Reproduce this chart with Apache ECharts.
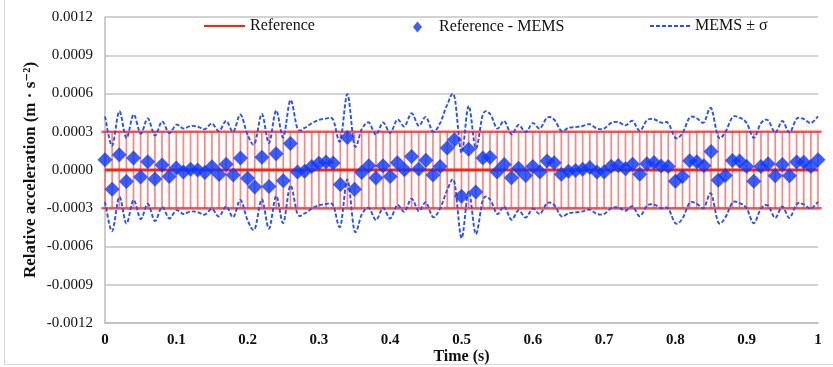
<!DOCTYPE html>
<html>
<head>
<meta charset="utf-8">
<script src="https://cdn.jsdelivr.net/npm/echarts@6/dist/echarts.min.js"></script>
<style>
  html, body { margin: 0; padding: 0; background: #ffffff; }
  #chart { width: 833px; height: 367px; }
</style>
</head>
<body>
<div id="chart"></div>
<script>
// Sample times (s)
const times = [
  0, 0.01, 0.02, 0.03, 0.04, 0.05, 0.06, 0.07, 0.08, 0.09,
  0.1, 0.11, 0.12, 0.13, 0.14, 0.15, 0.16, 0.17, 0.18, 0.19,
  0.2, 0.21, 0.22, 0.23, 0.24, 0.25, 0.26, 0.27, 0.28, 0.29,
  0.3, 0.31, 0.32, 0.33, 0.34, 0.35, 0.36, 0.37, 0.38, 0.39,
  0.4, 0.41, 0.42, 0.43, 0.44, 0.45, 0.46, 0.47, 0.48, 0.49,
  0.5, 0.51, 0.52, 0.53, 0.54, 0.55, 0.56, 0.57, 0.58, 0.59,
  0.6, 0.61, 0.62, 0.63, 0.64, 0.65, 0.66, 0.67, 0.68, 0.69,
  0.7, 0.71, 0.72, 0.73, 0.74, 0.75, 0.76, 0.77, 0.78, 0.79,
  0.8, 0.81, 0.82, 0.83, 0.84, 0.85, 0.86, 0.87, 0.88, 0.89,
  0.9, 0.91, 0.92, 0.93, 0.94, 0.95, 0.96, 0.97, 0.98, 0.99,
  1
];

// Reference acceleration level and its tolerance band (m·s⁻²)
const referenceValue = 0;
const referenceTolerance = 0.0003;

// Reference - MEMS difference (m·s⁻²)
const diffRefMems = [
  0.000080, -0.000150, 0.000120, -0.000090, 0.000095, -0.000055, 0.000065, -0.000070, 0.000040, -0.000050,
  0.000015, -0.000015, 0.000005, 0.000000, -0.000020, 0.000025, -0.000035, 0.000045, -0.000040, 0.000095,
  -0.000065, -0.000133, 0.000100, -0.000130, 0.000127, -0.000085, 0.000208, -0.000015, -0.000010, 0.000027,
  0.000053, 0.000063, 0.000054, -0.000114, 0.000255, -0.000150, -0.000020, 0.000033, -0.000063, 0.000033,
  -0.000050, 0.000056, 0.000002, 0.000105, 0.000007, 0.000076, -0.000039, 0.000028, 0.000172, 0.000237,
  -0.000205, 0.000163, -0.000172, 0.000095, 0.000100, -0.000015, 0.000044, -0.000060, 0.000014, -0.000043,
  0.000027, -0.000015, 0.000070, 0.000056, -0.000033, -0.000009, -0.000003, 0.000005, 0.000019, -0.000015,
  -0.000015, 0.000030, 0.000036, 0.000010, 0.000045, -0.000033, 0.000050, 0.000058, 0.000031, 0.000028,
  -0.000088, -0.000050, 0.000072, 0.000065, 0.000033, 0.000146, -0.000080, -0.000043, 0.000074, 0.000070,
  0.000028, -0.000088, 0.000028, 0.000050, -0.000046, 0.000044, -0.000046, 0.000062, 0.000060, 0.000028,
  0.000080
];

// Upper envelope, MEMS + σ (m·s⁻²)
const memsPlusSigma = [
  0.000420, 0.000190, 0.000460, 0.000250, 0.000435, 0.000285, 0.000405, 0.000270, 0.000380, 0.000290,
  0.000355, 0.000325, 0.000345, 0.000340, 0.000320, 0.000365, 0.000305, 0.000385, 0.000300, 0.000435,
  0.000275, 0.000207, 0.000440, 0.000210, 0.000467, 0.000255, 0.000548, 0.000325, 0.000330, 0.000367,
  0.000393, 0.000403, 0.000394, 0.000226, 0.000595, 0.000190, 0.000320, 0.000373, 0.000277, 0.000373,
  0.000290, 0.000396, 0.000342, 0.000445, 0.000347, 0.000416, 0.000301, 0.000368, 0.000512, 0.000577,
  0.000135, 0.000503, 0.000168, 0.000435, 0.000440, 0.000325, 0.000384, 0.000280, 0.000354, 0.000297,
  0.000367, 0.000325, 0.000410, 0.000396, 0.000307, 0.000331, 0.000337, 0.000345, 0.000359, 0.000325,
  0.000325, 0.000370, 0.000376, 0.000350, 0.000385, 0.000307, 0.000390, 0.000398, 0.000371, 0.000368,
  0.000252, 0.000290, 0.000412, 0.000405, 0.000373, 0.000486, 0.000260, 0.000297, 0.000414, 0.000410,
  0.000368, 0.000252, 0.000368, 0.000390, 0.000294, 0.000384, 0.000294, 0.000402, 0.000400, 0.000368,
  0.000420
];

// Lower envelope, MEMS - σ (m·s⁻²)
const memsMinusSigma = [
  -0.000250, -0.000480, -0.000210, -0.000420, -0.000235, -0.000385, -0.000265, -0.000400, -0.000290, -0.000380,
  -0.000315, -0.000345, -0.000325, -0.000330, -0.000350, -0.000305, -0.000365, -0.000285, -0.000370, -0.000235,
  -0.000395, -0.000463, -0.000230, -0.000460, -0.000203, -0.000415, -0.000122, -0.000345, -0.000340, -0.000303,
  -0.000277, -0.000267, -0.000276, -0.000444, -0.000075, -0.000480, -0.000350, -0.000297, -0.000393, -0.000297,
  -0.000380, -0.000274, -0.000328, -0.000225, -0.000323, -0.000254, -0.000369, -0.000302, -0.000158, -0.000093,
  -0.000535, -0.000167, -0.000502, -0.000235, -0.000230, -0.000345, -0.000286, -0.000390, -0.000316, -0.000373,
  -0.000303, -0.000345, -0.000260, -0.000274, -0.000363, -0.000339, -0.000333, -0.000325, -0.000311, -0.000345,
  -0.000345, -0.000300, -0.000294, -0.000320, -0.000285, -0.000363, -0.000280, -0.000272, -0.000299, -0.000302,
  -0.000418, -0.000380, -0.000258, -0.000265, -0.000297, -0.000184, -0.000410, -0.000373, -0.000256, -0.000260,
  -0.000302, -0.000418, -0.000302, -0.000280, -0.000376, -0.000286, -0.000376, -0.000268, -0.000270, -0.000302,
  -0.000250
];

const seriesNames = ['Reference', 'Reference - MEMS', 'MEMS \u00b1 \u03c3'];

const serif = '"Liberation Serif", "DejaVu Serif", serif';
const envelopeColor = '#2553f6';
const pair = (xs, ys) => xs.map((x, i) => [x, ys[i]]);

// Catmull-Rom spline through every point of a series, drawn once as a single dashed path
function splineRenderer(values) {
  return (params, api) => {
    if (params.dataIndex !== 0) return null;
    const pts = values.map((v, i) => api.coord([times[i], v]));
    const n = pts.length;
    let d = 'M' + pts[0][0] + ',' + pts[0][1];
    for (let i = 0; i < n - 1; i++) {
      const p0 = pts[Math.max(i - 1, 0)];
      const p1 = pts[i];
      const p2 = pts[i + 1];
      const p3 = pts[Math.min(i + 2, n - 1)];
      const c1x = p1[0] + (p2[0] - p0[0]) / 6;
      const c1y = p1[1] + (p2[1] - p0[1]) / 6;
      const c2x = p2[0] - (p3[0] - p1[0]) / 6;
      const c2y = p2[1] - (p3[1] - p1[1]) / 6;
      d += ' C' + c1x + ',' + c1y + ' ' + c2x + ',' + c2y + ' ' + p2[0] + ',' + p2[1];
    }
    return {
      type: 'path',
      shape: { pathData: d },
      style: { fill: 'none', stroke: envelopeColor, lineWidth: 1.9, lineDash: [4, 2] }
    };
  };
}

// dashed legend sample
const dashedIcon = 'path://M0 0h4v1.8h-4zM6 0h4v1.8h-4zM12 0h4v1.8h-4zM18 0h4v1.8h-4zM24 0h4v1.8h-4zM30 0h4v1.8h-4zM36 0h4v1.8h-4z';

const chart = echarts.init(document.getElementById('chart'), null, { renderer: 'canvas' });

const legendText = { fontFamily: serif, fontSize: 16, color: '#111' };
const legendBase = { top: 18, padding: 0, itemHeight: 14, selectedMode: false, textStyle: legendText };

chart.setOption({
  animation: false,
  backgroundColor: '#ffffff',
  grid: { left: 105, top: 17, width: 713, height: 306, containLabel: false, outerBoundsMode: 'none' },
  legend: [
    Object.assign({}, legendBase, {
      left: 203, itemWidth: 41,
      data: [{ name: seriesNames[0], itemStyle: { opacity: 0 } }]
    }),
    Object.assign({}, legendBase, {
      left: 413, itemWidth: 9, itemHeight: 11, top: 19,
      data: [{ name: seriesNames[1], icon: 'diamond' }],
      textStyle: Object.assign({}, legendText, { padding: [0, 0, 0, 12] })
    }),
    Object.assign({}, legendBase, {
      left: 650, itemWidth: 40,
      data: [{ name: seriesNames[2], icon: dashedIcon }]
    })
  ],
  xAxis: {
    type: 'value',
    min: 0, max: 1, interval: 0.1,
    name: 'Time (s)',
    nameLocation: 'middle',
    nameGap: 26,
    nameMoveOverlap: false,
    nameTextStyle: { fontFamily: serif, fontSize: 16, fontWeight: 'bold', color: '#111' },
    axisLine: { show: true, onZero: false, lineStyle: { color: '#bdbdbd', width: 1.5 } },
    axisTick: { show: false },
    splitLine: { show: false },
    axisLabel: { fontFamily: serif, fontSize: 15, fontWeight: 'bold', color: '#111', margin: 10 }
  },
  yAxis: {
    type: 'value',
    min: -0.0012, max: 0.0012, interval: 0.0003,
    name: 'Relative acceleration (m \u00b7 s\u207b\u00b2)',
    nameLocation: 'middle',
    nameGap: 66,
    nameRotate: 90,
    nameMoveOverlap: false,
    nameTextStyle: { fontFamily: serif, fontSize: 17, fontWeight: 'bold', color: '#111' },
    axisLine: { show: true, lineStyle: { color: '#bdbdbd', width: 1.5 } },
    axisTick: { show: false },
    splitLine: { show: true, lineStyle: { color: '#c4c4c4', width: 1.5 } },
    axisLabel: {
      fontFamily: serif, fontSize: 15, color: '#111', margin: 12,
      formatter: v => v.toFixed(4)
    }
  },
  graphic: [
    { type: 'line', shape: { x1: 4.5, y1: 0, x2: 4.5, y2: 364.5 }, style: { stroke: '#d8d8d8', lineWidth: 1 }, silent: true },
    { type: 'line', shape: { x1: 4.5, y1: 364.5, x2: 833, y2: 364.5 }, style: { stroke: '#d8d8d8', lineWidth: 1 }, silent: true }
  ],
  series: [
    {
      // tolerance band drawn as error bars around the reference level
      type: 'custom',
      name: 'tolerance',
      clip: false,
      z: 1,
      data: times.map(t => [t, referenceValue + referenceTolerance, referenceValue - referenceTolerance]),
      renderItem: (params, api) => {
        const t = api.value(0);
        const top = api.coord([t, api.value(1)]);
        const bot = api.coord([t, api.value(2)]);
        const half = api.size([0.01, 0])[0] / 2;
        return {
          type: 'group',
          children: [
            { type: 'line', shape: { x1: top[0], y1: top[1], x2: bot[0], y2: bot[1] },
              style: { stroke: 'rgba(255,90,90,0.75)', lineWidth: 1.7 } },
            { type: 'line', shape: { x1: top[0] - half, y1: top[1], x2: top[0] + half, y2: top[1] },
              style: { stroke: 'rgba(255,60,60,0.9)', lineWidth: 2.4 } },
            { type: 'line', shape: { x1: bot[0] - half, y1: bot[1], x2: bot[0] + half, y2: bot[1] },
              style: { stroke: 'rgba(255,60,60,0.9)', lineWidth: 2.4 } }
          ]
        };
      }
    },
    {
      name: seriesNames[0],
      type: 'line',
      z: 3,
      symbol: 'none',
      data: times.map(t => [t, referenceValue]),
      lineStyle: { color: '#ff2410', width: 3.2 },
      itemStyle: { color: '#ff2410' }
    },
    {
      name: seriesNames[2],
      type: 'custom',
      z: 4,
      clip: false,
      data: pair(times, memsPlusSigma),
      encode: { x: 0, y: 1 },
      itemStyle: { color: envelopeColor },
      renderItem: splineRenderer(memsPlusSigma)
    },
    {
      name: seriesNames[2],
      type: 'custom',
      z: 4,
      clip: false,
      data: pair(times, memsMinusSigma),
      encode: { x: 0, y: 1 },
      itemStyle: { color: envelopeColor },
      renderItem: splineRenderer(memsMinusSigma)
    },
    {
      name: seriesNames[1],
      type: 'scatter',
      z: 5,
      symbol: 'diamond',
      symbolSize: [15, 15],
      data: pair(times, diffRefMems),
      itemStyle: { color: '#0838ff' }
    }
  ]
});
</script>
</body>
</html>
